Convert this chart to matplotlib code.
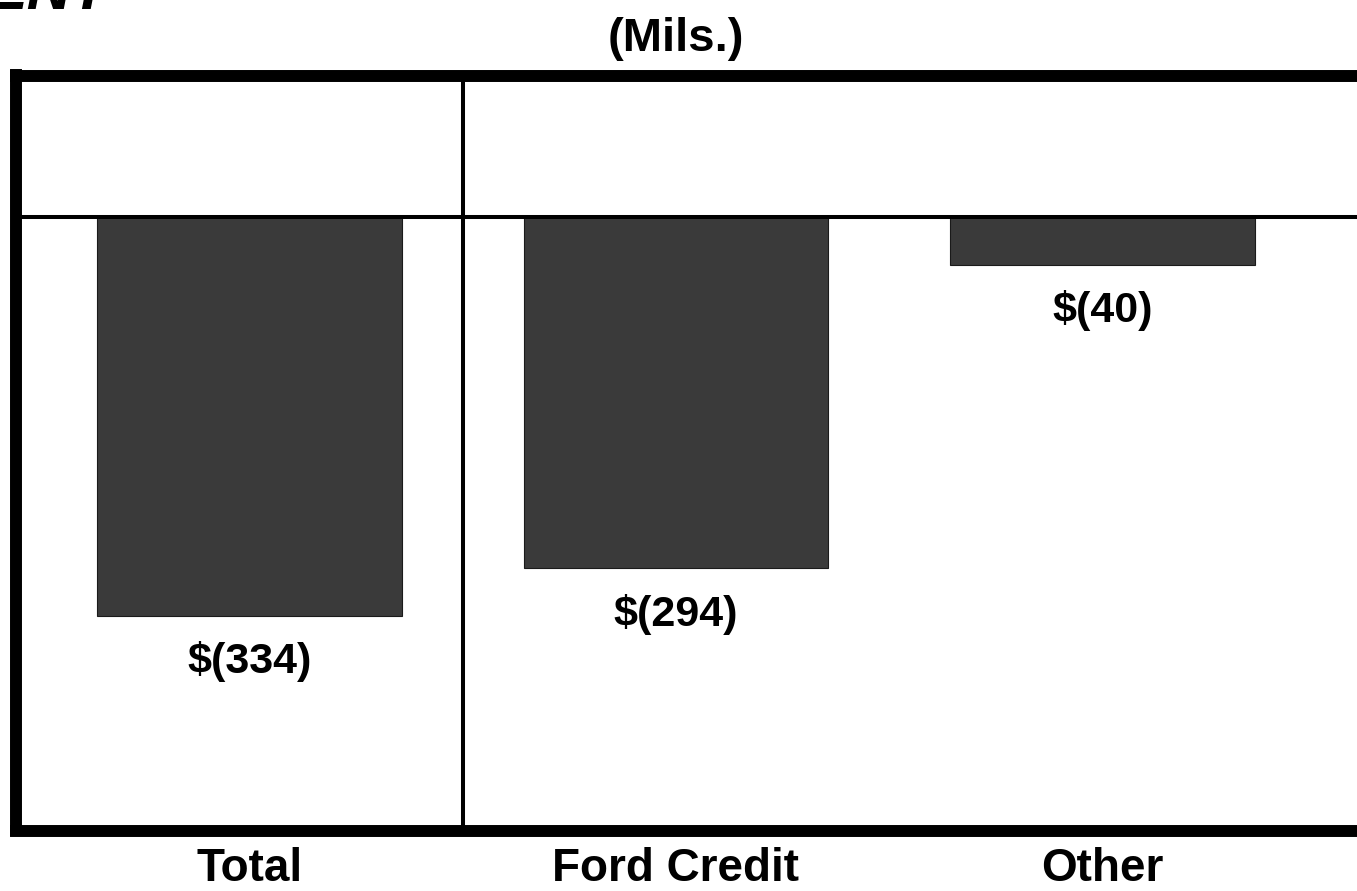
import numpy as np
import matplotlib.pyplot as plt

categories = ['Total', 'Ford Credit', 'Other']
values = [-334, -294, -40]
value_labels = ['$(334)', '$(294)', '$(40)']

W, H = 1357, 891
fig = plt.figure(figsize=(W / 100, H / 100), dpi=100)
plt.rcParams['font.family'] = ['Liberation Sans', 'DejaVu Sans']

# axes box: left spine centre at x=16px, top at y=75.5px, bottom at y=830.5px
left, top, bottom = 16, 75.5, 830.5
ax = fig.add_axes([left / W, 1 - bottom / H, 1.2, (bottom - top) / H])

px_per_cat = 426.5
x0 = 249.5
xmin = (left - x0) / px_per_cat
xmax = xmin + 1.2 * W / px_per_cat
ax.set_xlim(xmin, xmax)

px_per_unit = 1.195
zero_y = 217
ax.set_ylim(-(bottom - zero_y) / px_per_unit, (zero_y - top) / px_per_unit)

x = np.arange(len(categories))
ax.bar(x, values, width=0.715, color='#3a3a3a', edgecolor='#1a1a1a', linewidth=0.8, zorder=2)

for s in ['left', 'top', 'bottom']:
    ax.spines[s].set_linewidth(8.6)
    ax.spines[s].set_color('black')
ax.spines['right'].set_visible(False)

ax.axhline(0, color='black', lw=2.9, zorder=3)
ax.axvline(0.5, color='black', lw=2.9, zorder=3)

ax.set_xticks([])
ax.set_yticks([])

for xi, v, lab in zip(x, values, value_labels):
    ax.annotate(lab.replace('$', r'\$'), (xi, v), xytext=(0, -33), textcoords='offset points',
                ha='center', va='center', fontsize=31, fontweight='bold')

for xi, c in zip(x, categories):
    ax.annotate(c, (xi, 0), xycoords=('data', 'axes fraction'), xytext=(0, -28),
                textcoords='offset points', ha='center', va='center',
                fontsize=33, fontweight='bold')

fig.text(676 / W, 1 - 39 / H, '(Mils.)', ha='center', va='center', fontsize=34, fontweight='bold')
fig.text(-0.01, 1 - 9 / H, 'ENT', ha='left', va='baseline', fontsize=44,
         fontweight='bold', fontstyle='italic')

fig.savefig('out.png', dpi=100)
